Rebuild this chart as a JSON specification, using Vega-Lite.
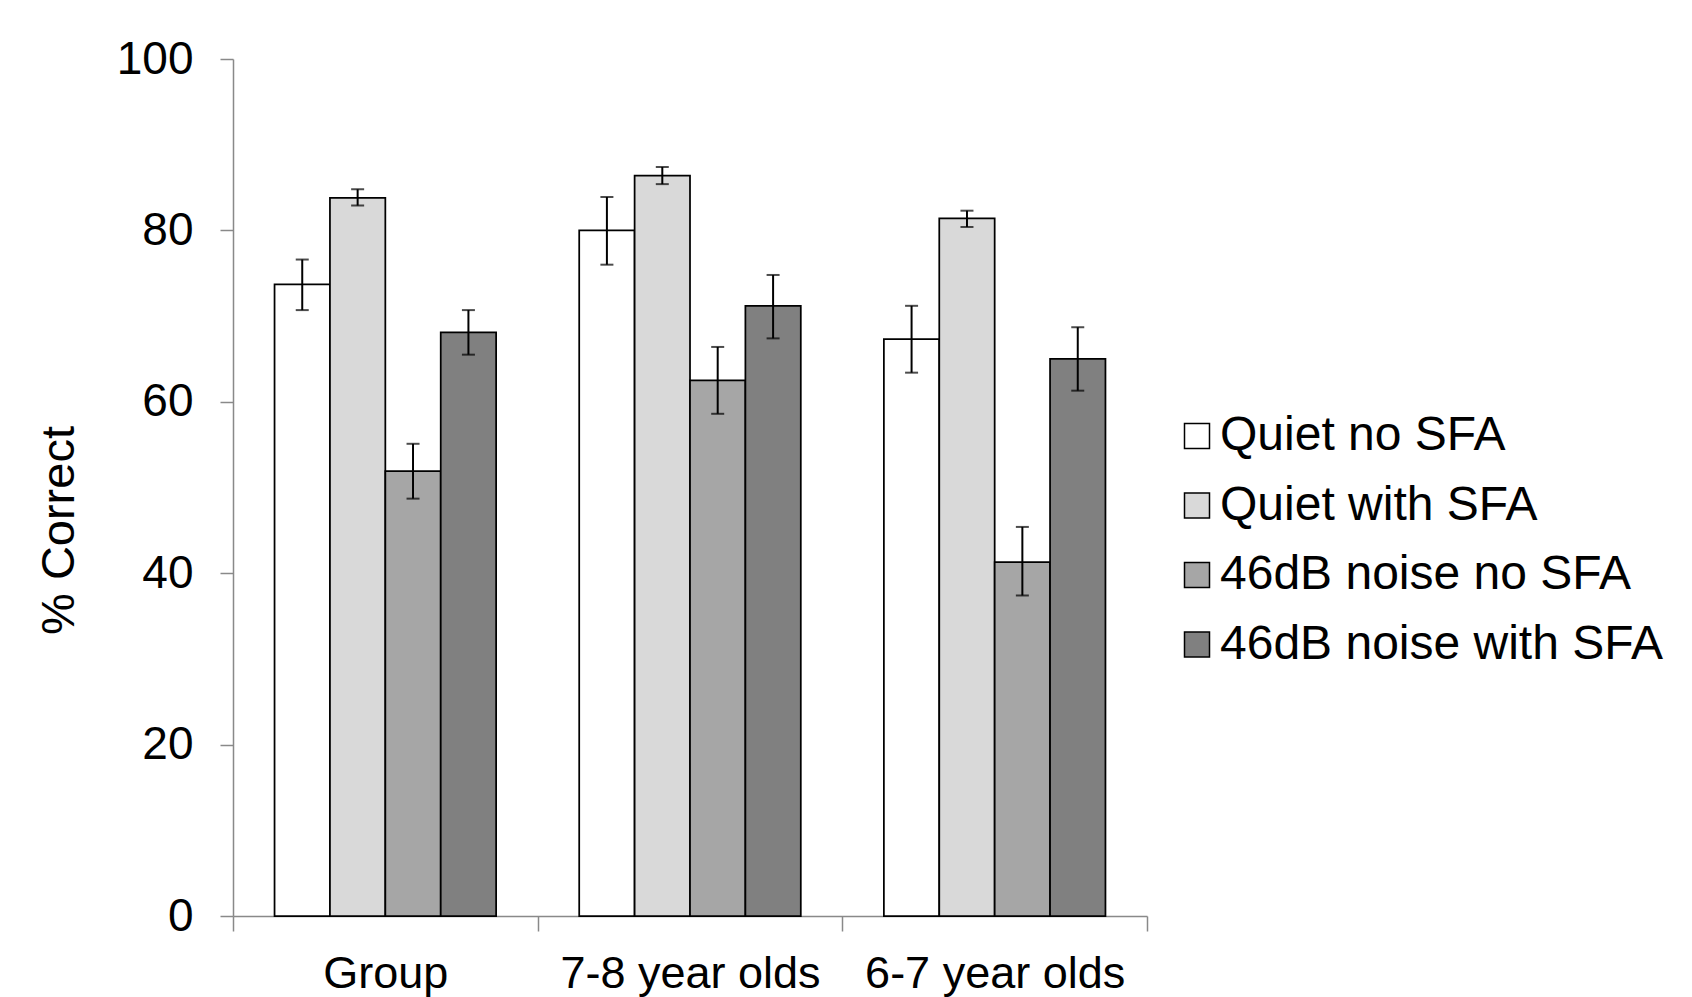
{
  "$schema": "https://vega.github.io/schema/vega-lite/v6.json",
  "width": 914,
  "height": 857,
  "autosize": {"type": "none"},
  "padding": {"left": 233, "top": 59, "right": 545, "bottom": 81},
  "background": "white",
  "config": {
    "font": "Liberation Sans",
    "view": {"stroke": null},
    "axis": {"grid": false, "domainColor": "#898989", "tickColor": "#898989", "domainWidth": 1.5, "tickWidth": 1.5, "labelColor": "black", "titleColor": "black", "labelFont": "Liberation Sans", "titleFont": "Liberation Sans"}
  },
  "data": {
    "values": [
      {"group": "Group", "condition": "Quiet no SFA", "value": 73.7, "lo": 70.7, "hi": 76.6},
      {"group": "Group", "condition": "Quiet with SFA", "value": 83.8, "lo": 82.9, "hi": 84.8},
      {"group": "Group", "condition": "46dB noise no SFA", "value": 51.9, "lo": 48.7, "hi": 55.1},
      {"group": "Group", "condition": "46dB noise with SFA", "value": 68.1, "lo": 65.5, "hi": 70.7},
      {"group": "7-8 year olds", "condition": "Quiet no SFA", "value": 80.0, "lo": 76.0, "hi": 83.9},
      {"group": "7-8 year olds", "condition": "Quiet with SFA", "value": 86.4, "lo": 85.4, "hi": 87.4},
      {"group": "7-8 year olds", "condition": "46dB noise no SFA", "value": 62.5, "lo": 58.6, "hi": 66.4},
      {"group": "7-8 year olds", "condition": "46dB noise with SFA", "value": 71.2, "lo": 67.4, "hi": 74.8},
      {"group": "6-7 year olds", "condition": "Quiet no SFA", "value": 67.3, "lo": 63.4, "hi": 71.2},
      {"group": "6-7 year olds", "condition": "Quiet with SFA", "value": 81.4, "lo": 80.4, "hi": 82.3},
      {"group": "6-7 year olds", "condition": "46dB noise no SFA", "value": 41.3, "lo": 37.4, "hi": 45.4},
      {"group": "6-7 year olds", "condition": "46dB noise with SFA", "value": 65.0, "lo": 61.3, "hi": 68.7}
    ]
  },
  "encoding": {
    "x": {
      "field": "group", "type": "nominal",
      "sort": ["Group", "7-8 year olds", "6-7 year olds"],
      "scale": {"paddingInner": 0, "paddingOuter": 0},
      "axis": {"title": null, "labelAngle": 0, "labelFontSize": 45, "tickBand": "extent", "tickSize": 15, "labelPadding": 20, "labelLimit": 0, "labelOverlap": false}
    },
    "xOffset": {
      "field": "condition", "type": "nominal",
      "sort": ["Quiet no SFA", "Quiet with SFA", "46dB noise no SFA", "46dB noise with SFA"],
      "scale": {"paddingInner": 0, "paddingOuter": 0.75}
    }
  },
  "layer": [
    {
      "mark": {"type": "bar", "stroke": "black", "strokeWidth": 1.75},
      "encoding": {
        "y": {
          "field": "value", "type": "quantitative",
          "scale": {"domain": [0, 100], "nice": false},
          "axis": {"values": [0, 20, 40, 60, 80, 100], "title": "% Correct", "titleFontSize": 47, "titleFontWeight": "normal", "titleX": -174, "titleY": 471, "titleAlign": "center", "titleBaseline": "middle", "titleAngle": -90, "labelFontSize": 46, "tickSize": 13, "labelPadding": 27}
        },
        "fill": {
          "field": "condition", "type": "nominal",
          "sort": ["Quiet no SFA", "Quiet with SFA", "46dB noise no SFA", "46dB noise with SFA"],
          "scale": {"domain": ["Quiet no SFA", "Quiet with SFA", "46dB noise no SFA", "46dB noise with SFA"], "range": ["#ffffff", "#d9d9d9", "#a6a6a6", "#808080"]},
          "legend": {"title": null, "orient": "none", "legendX": 940, "legendY": 353, "symbolType": "square", "symbolSize": 625, "symbolStrokeColor": "black", "symbolStrokeWidth": 1.5, "symbolOpacity": 1, "labelFontSize": 48, "labelFont": "Liberation Sans", "labelColor": "black", "labelOffset": -1, "rowPadding": 21.5, "labelLimit": 600}
        }
      }
    },
    {
      "mark": {"type": "rule", "color": "black", "strokeWidth": 2},
      "encoding": {
        "y": {"field": "lo", "type": "quantitative"},
        "y2": {"field": "hi"}
      }
    },
    {
      "mark": {"type": "tick", "color": "black", "thickness": 2, "size": 13, "orient": "horizontal"},
      "encoding": {"y": {"field": "lo", "type": "quantitative"}}
    },
    {
      "mark": {"type": "tick", "color": "black", "thickness": 2, "size": 13, "orient": "horizontal"},
      "encoding": {"y": {"field": "hi", "type": "quantitative"}}
    }
  ]
}
